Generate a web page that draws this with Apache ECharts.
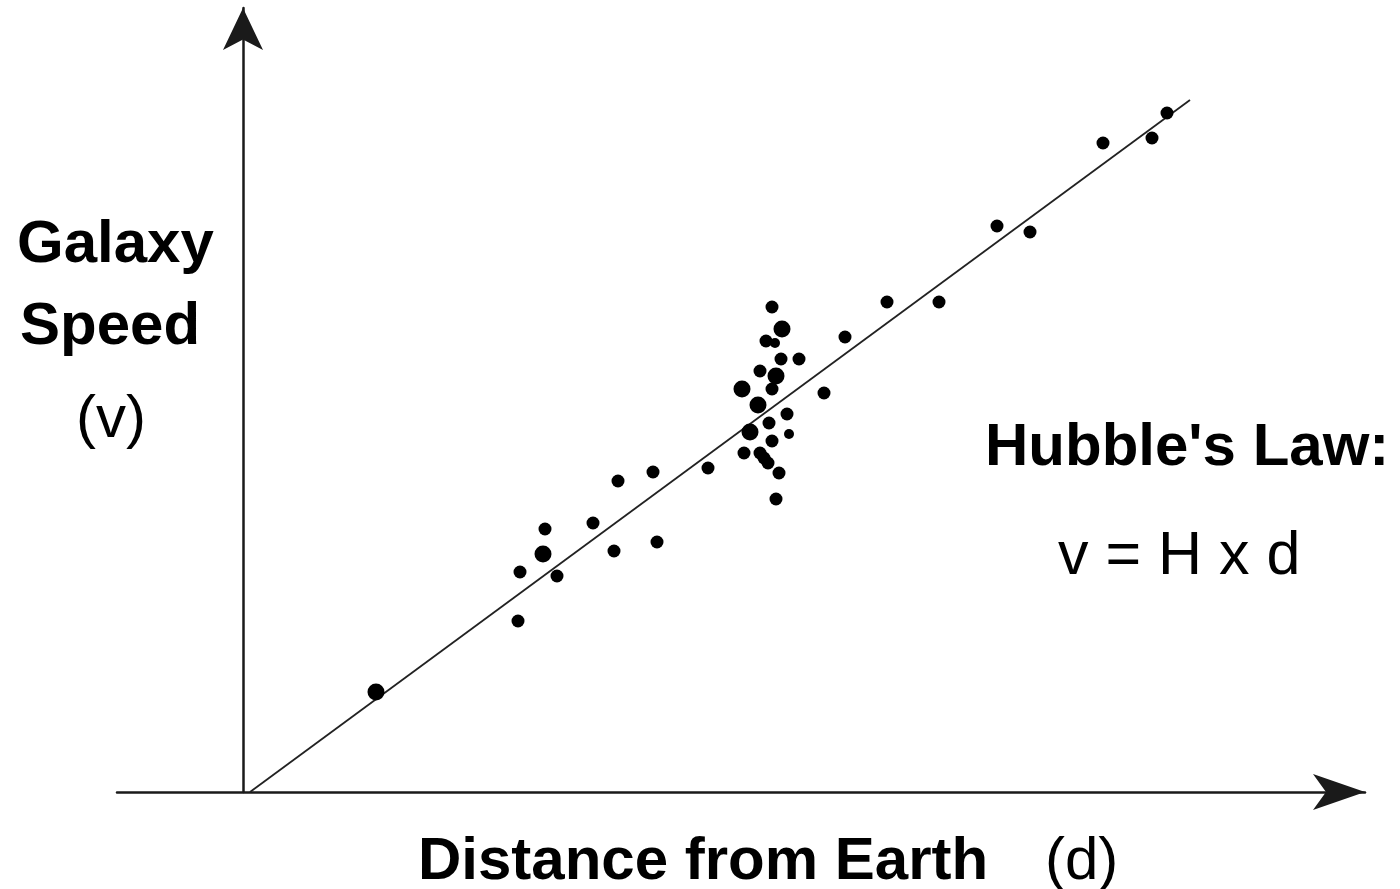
<!DOCTYPE html>
<html>
<head>
<meta charset="utf-8">
<script src="https://cdn.jsdelivr.net/npm/echarts@6/dist/echarts.min.js"></script>
<style>
  html, body { margin: 0; padding: 0; background: #fff; }
  #chart { width: 1400px; height: 889px; }
</style>
</head>
<body>
<div id="chart"></div>
<script>
// Distance (d) and speed (v) in arbitrary units
const galaxies = [
  [27.5, 17.1], [27.7, 22.0], [30.2, 26.3], [31.4, 21.6], [35.0, 26.9],
  [37.1, 24.1], [37.5, 31.1], [41.0, 32.0], [41.4, 25.0], [46.5, 32.4],
  [52.9, 48.5], [52.3, 45.1], [53.8, 43.3], [55.6, 43.3], [51.7, 42.1],
  [52.9, 40.3], [58.1, 39.9], [54.4, 37.8], [52.6, 36.9], [52.9, 35.1],
  [50.1, 33.9], [51.7, 33.9], [52.1, 33.4], [52.5, 32.9], [53.6, 31.9],
  [53.3, 29.3], [60.2, 45.5], [64.4, 49.0], [69.6, 49.0], [75.4, 56.6],
  [78.7, 56.0], [86.0, 64.9], [90.9, 65.4], [92.4, 67.9]
];
const largeGalaxies = [
  [13.3, 10.0], [30.0, 23.8], [53.9, 46.3], [53.3, 41.6], [49.9, 40.3],
  [51.5, 38.7], [50.7, 36.0]
];
const smallGalaxies = [
  [53.2, 44.9], [54.6, 35.8]
];
// Hubble's law fit line end points
const fitLine = [[0.7, 0], [94.7, 69.2]];

const xRange = [-12.6, 112.2];
const yRange = [0, 78.4];

const labels = {
  yTitle1: 'Galaxy',
  yTitle2: 'Speed',
  yUnit: '(v)',
  lawTitle: "Hubble's Law:",
  lawFormula: 'v = H x d',
  xTitle: 'Distance from Earth',
  xUnit: '(d)'
};

const FONT = "'Liberation Sans', Arial, Helvetica, sans-serif";
const chart = echarts.init(document.getElementById('chart'), null, { renderer: 'canvas' });

function txt(text, x, y, bold, size) {
  return {
    type: 'text',
    x: x, y: y,
    silent: true,
    style: {
      text: text,
      fill: '#000',
      font: (bold ? 'bold ' : '') + (size || 60) + 'px ' + FONT,
      align: 'left',
      verticalAlign: 'middle'
    }
  };
}

chart.setOption({
  animation: false,
  backgroundColor: '#fff',
  grid: { left: 117, right: 35, top: 8, bottom: 97, containLabel: false },
  xAxis: {
    type: 'value', min: xRange[0], max: xRange[1],
    splitLine: { show: false }, axisTick: { show: false }, axisLabel: { show: false },
    axisLine: {
      show: true, onZero: true,
      symbol: ['none', 'arrow'], symbolSize: [27, 52],
      lineStyle: { color: '#1a1a1a', width: 2.5 }
    }
  },
  yAxis: {
    type: 'value', min: yRange[0], max: yRange[1],
    splitLine: { show: false }, axisTick: { show: false }, axisLabel: { show: false },
    axisLine: {
      show: true, onZero: true,
      symbol: ['none', 'arrow'], symbolSize: [30, 42],
      lineStyle: { color: '#1a1a1a', width: 2.5 }
    }
  },
  series: [
    {
      type: 'line', data: fitLine, symbol: 'none', silent: true,
      lineStyle: { color: '#222', width: 1.8 }, z: 2
    },
    {
      type: 'scatter', data: galaxies, symbolSize: 13,
      itemStyle: { color: '#000', opacity: 1 }, z: 3
    },
    {
      type: 'scatter', data: largeGalaxies, symbolSize: 17,
      itemStyle: { color: '#000', opacity: 1 }, z: 3
    },
    {
      type: 'scatter', data: smallGalaxies, symbolSize: 10,
      itemStyle: { color: '#000', opacity: 1 }, z: 3
    }
  ],
  graphic: [
    txt(labels.yTitle1, 17, 245, true),
    txt(labels.yTitle2, 20, 327, true),
    txt(labels.yUnit, 76, 420, false),
    txt(labels.lawTitle, 985, 448, true),
    txt(labels.lawFormula, 1058, 557, false, 61),
    txt(labels.xTitle, 418, 862, true),
    txt(labels.xUnit, 1045, 862, false)
  ]
});
</script>
</body>
</html>
